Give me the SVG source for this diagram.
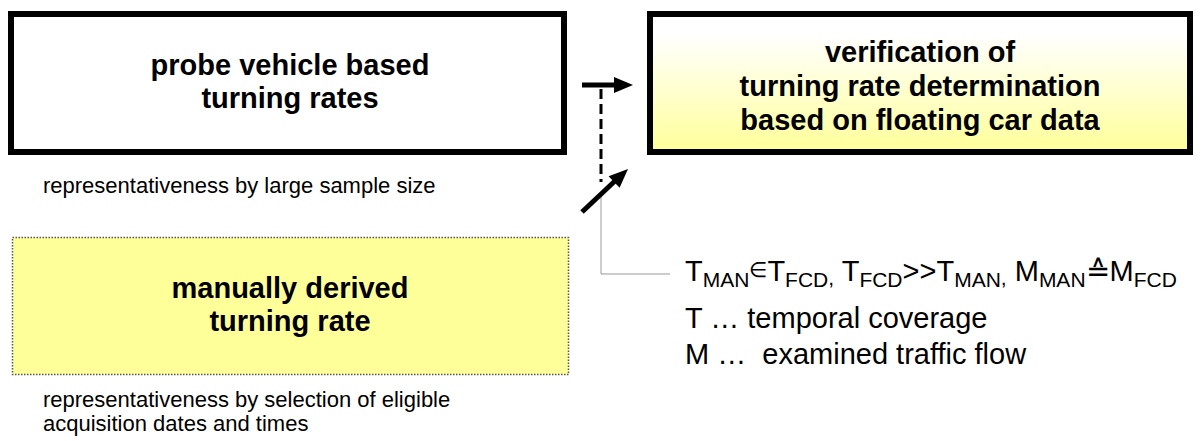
<svg xmlns="http://www.w3.org/2000/svg" width="1202" height="441" viewBox="0 0 1202 441">
<defs>
<linearGradient id="g" x1="0" y1="0" x2="0" y2="1">
<stop offset="0" stop-color="#ffffff"/>
<stop offset="0.15" stop-color="#ffffff"/>
<stop offset="1" stop-color="#ffff99"/>
</linearGradient>
<style>
.t{font-family:"Liberation Sans",Arial,sans-serif;font-weight:bold;font-size:29px;text-anchor:middle;fill:#000}
.c{font-family:"Liberation Sans",Arial,sans-serif;font-size:22px;fill:#000}
.r{font-family:"Liberation Sans",Arial,sans-serif;font-size:29px;fill:#000}
.s{font-size:21px}
.box{stroke:#000;stroke-width:6}
</style>
</defs>
<rect width="1202" height="441" fill="#fff"/>
<g id="connectors">
<polyline points="601,195 601,274 670,274" fill="none" stroke="#999" stroke-width="1"/>
<line x1="601" y1="89" x2="601" y2="182" stroke="#000" stroke-width="3" stroke-dasharray="10 5"/>
<line x1="582" y1="85" x2="618" y2="85" stroke="#000" stroke-width="5"/>
<polygon points="633,85 614,77 614,93" fill="#000"/>
<line x1="582" y1="212" x2="616" y2="180" stroke="#000" stroke-width="5"/>
<polygon points="628,169 619.6,187.8 608.6,176.2" fill="#000"/>
</g>
<g id="probe">
<rect class="box" x="11" y="14" width="553" height="138" fill="#fff"/>
<text class="t" x="290" y="75">probe vehicle based</text>
<text class="t" x="290" y="108">turning rates</text>
<text class="c" x="43" y="193">representativeness by large sample size</text>
</g>
<g id="verification">
<rect class="box" x="650" y="14" width="540" height="138" fill="url(#g)"/>
<text class="t" x="920" y="62">verification of</text>
<text class="t" x="920" y="96">turning rate determination</text>
<text class="t" x="920" y="130">based on floating car data</text>
</g>
<g id="manual">
<rect x="12.5" y="237.5" width="556" height="137" fill="#ffff99" stroke="#555" stroke-width="1.5" stroke-dasharray="1.5 1.5"/>
<text class="t" x="290" y="298">manually derived</text>
<text class="t" x="290" y="331">turning rate</text>
<text class="c" x="43" y="407">representativeness by selection of eligible</text>
<text class="c" x="43" y="431">acquisition dates and times</text>
</g>
<g id="legend">
<text class="r" x="685" y="281">T<tspan class="s" dy="6">MAN</tspan><tspan class="s" dy="-10">∈</tspan><tspan dy="4">T</tspan><tspan class="s" dy="6">FCD</tspan><tspan class="s" dy="-2">,</tspan><tspan dy="-4"> T</tspan><tspan class="s" dy="6">FCD</tspan><tspan dy="-6">&gt;&gt;T</tspan><tspan class="s" dy="6">MAN</tspan><tspan class="s" dy="-2">,</tspan><tspan dy="-4"> M</tspan><tspan class="s" dy="6">MAN</tspan><tspan dy="-6">≙M</tspan><tspan class="s" dy="6">FCD</tspan></text>
<text class="r" x="685" y="328">T … temporal coverage</text>
<text class="r" x="685" y="364">M … <tspan dx="8">examined traffic flow</tspan></text>
</g>
</svg>
